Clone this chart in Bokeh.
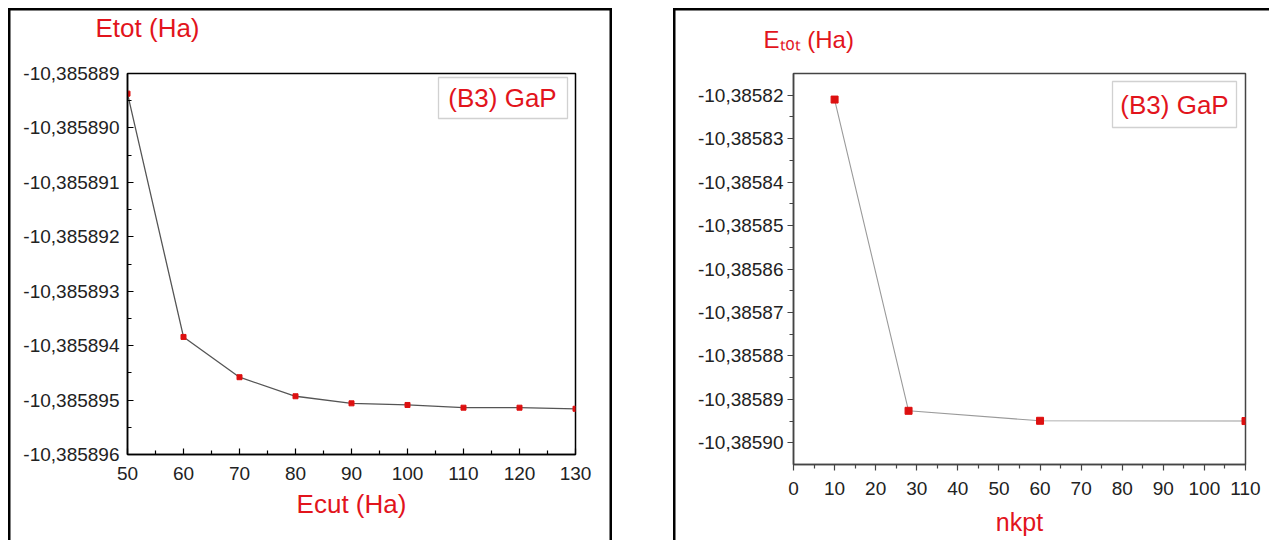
from bokeh.plotting import figure
from bokeh.models import (Range1d, FixedTicker, CustomJSTickFormatter, Label,
                          BoxAnnotation, Title)
from bokeh.layouts import row
from bokeh.embed import file_html
from bokeh.resources import INLINE

# ---------------- data ----------------
ecut = [50, 60, 70, 80, 90, 100, 110, 120, 130]
etot_ecut = [-10.38588937, -10.38589384, -10.38589458, -10.38589493,
             -10.38589506, -10.38589509, -10.38589514, -10.38589514,
             -10.38589516]

nkpt = [10, 28, 60, 110]
etot_nkpt = [-10.3858210, -10.38589264, -10.38589494, -10.38589500]

left_yticks = [-10.385889, -10.385890, -10.385891, -10.385892,
               -10.385893, -10.385894, -10.385895, -10.385896]
left_ylabels = ["-10,385889", "-10,385890", "-10,385891", "-10,385892",
                "-10,385893", "-10,385894", "-10,385895", "-10,385896"]
left_xticks = [50, 60, 70, 80, 90, 100, 110, 120, 130]

right_yticks = [-10.38582, -10.38583, -10.38584, -10.38585, -10.38586,
                -10.38587, -10.38588, -10.38589, -10.38590]
right_ylabels = ["-10,38582", "-10,38583", "-10,38584", "-10,38585",
                 "-10,38586", "-10,38587", "-10,38588", "-10,38589",
                 "-10,38590"]
right_xticks = [0, 10, 20, 30, 40, 50, 60, 70, 80, 90, 100, 110]

legend_text = "(B3) GaP"
left_title = "Etot (Ha)"
right_title = "E\u209c\u2092\u209c (Ha)"
left_xtitle = "Ecut (Ha)"
right_xtitle = "nkpt"

FONT = "Liberation Sans"
RED = "#e2141c"
MARK = "#dd1010"

JS_FMT = """
let best = 0; let bd = Infinity;
for (let i = 0; i < tv.length; i++) {
  const d = Math.abs(tv[i] - tick);
  if (d < bd) { bd = d; best = i; }
}
return lab[best];
"""


def minor_between(t):
    return [(a + b) / 2 for a, b in zip(t[:-1], t[1:])]


def style_axes(p, inward, axis_color):
    for ax in (p.xaxis[0], p.yaxis[0]):
        ax.axis_line_color = axis_color
        ax.axis_line_width = 1.5
        ax.major_tick_line_color = axis_color
        ax.minor_tick_line_color = axis_color
        ax.major_tick_line_width = 1.2
        ax.minor_tick_line_width = 1.2
        ax.major_label_text_font = FONT
        ax.major_label_text_font_size = "19px"
        ax.major_label_text_color = "#222222"
        ax.axis_label_text_font = FONT
        ax.axis_label_text_font_style = "normal"
        ax.axis_label_text_color = RED
        if inward:
            ax.major_tick_in = 6
            ax.major_tick_out = 0
            ax.minor_tick_in = 4
            ax.minor_tick_out = 0
        else:
            ax.major_tick_in = 0
            ax.major_tick_out = 6
            ax.minor_tick_in = 0
            ax.minor_tick_out = 4
    p.xgrid.visible = False
    p.ygrid.visible = False
    p.border_fill_color = None


def add_top_title(p, text, size, gap, offset):
    # invisible spacer title (closest to the frame), then the real title
    p.add_layout(Title(text=" ", text_font_size="2px", standoff=gap), "above")
    p.add_layout(Title(text=text, align="left", offset=offset,
                       standoff=0, vertical_align="bottom", text_font=FONT,
                       text_font_size=size, text_font_style="normal",
                       text_color=RED), "above")


# ---------------- left panel ----------------
p1 = figure(width=604, height=552,
            x_range=Range1d(50, 130),
            y_range=Range1d(-10.385896, -10.385889),
            output_backend="svg", toolbar_location=None,
            min_border_left=119, min_border_right=37,
            min_border_top=64, min_border_bottom=106)
p1.margin = (8, 0, 0, 8)
p1.styles = {"box-shadow": "inset 2.5px 2.5px 0 0 #000, inset -2.5px 0 0 0 #000"}
p1.outline_line_color = "black"
p1.outline_line_width = 1.5
style_axes(p1, True, "black")
p1.xaxis.ticker = FixedTicker(ticks=left_xticks, minor_ticks=minor_between(left_xticks))
p1.yaxis.ticker = FixedTicker(ticks=left_yticks, minor_ticks=minor_between(left_yticks))
p1.yaxis.formatter = CustomJSTickFormatter(args=dict(tv=left_yticks, lab=left_ylabels), code=JS_FMT)
p1.yaxis.major_label_standoff = 8
p1.xaxis.major_label_standoff = 12
p1.xaxis.axis_label = left_xtitle
p1.xaxis.axis_label_text_font_size = "26px"
p1.xaxis.axis_label_standoff = 6

p1.line(ecut, etot_ecut, line_color="#555555", line_width=1.3)
p1.scatter(ecut, etot_ecut, marker="square", size=5, fill_color=MARK, line_color=MARK)

p1.add_layout(BoxAnnotation(left=311, right=440, top=377, bottom=336,
                            left_units="screen", right_units="screen",
                            top_units="screen", bottom_units="screen",
                            fill_color="white", fill_alpha=1,
                            line_color="#666666", line_width=1.3))
p1.add_layout(Label(x=375, y=356.5, x_units="screen", y_units="screen",
                    text=legend_text, text_align="center", text_baseline="middle",
                    text_font=FONT, text_font_size="26px", text_color=RED))
add_top_title(p1, left_title, "26px", 27, -32)

# ---------------- right panel ----------------
p2 = figure(width=596, height=562,
            x_range=Range1d(0, 110),
            y_range=Range1d(-10.385905, -10.385815),
            output_backend="svg", toolbar_location=None,
            min_border_left=120, min_border_right=24,
            min_border_top=65, min_border_bottom=95)
p2.margin = (8, 0, 0, 61)
p2.styles = {"box-shadow": "inset 2.5px 2.5px 0 0 #000"}
p2.outline_line_color = "#444444"
p2.outline_line_width = 1.5
style_axes(p2, False, "#444444")
p2.xaxis.ticker = FixedTicker(ticks=right_xticks, minor_ticks=minor_between(right_xticks))
p2.yaxis.ticker = FixedTicker(ticks=right_yticks, minor_ticks=minor_between(right_yticks))
p2.yaxis.formatter = CustomJSTickFormatter(args=dict(tv=right_yticks, lab=right_ylabels), code=JS_FMT)
p2.yaxis.major_label_standoff = 4
p2.xaxis.major_label_standoff = 11
p2.xaxis.axis_label = right_xtitle
p2.xaxis.axis_label_text_font_size = "25px"
p2.xaxis.axis_label_standoff = 10

p2.line(nkpt, etot_nkpt, line_color="#9a9a9a", line_width=1.1)
p2.scatter(nkpt, etot_nkpt, marker="square", size=7, fill_color=MARK, line_color=MARK)

p2.add_layout(BoxAnnotation(left=319, right=443, top=383, bottom=337,
                            left_units="screen", right_units="screen",
                            top_units="screen", bottom_units="screen",
                            fill_color="white", fill_alpha=1,
                            line_color="#666666", line_width=1.3))
p2.add_layout(Label(x=381, y=360, x_units="screen", y_units="screen",
                    text=legend_text, text_align="center", text_baseline="middle",
                    text_font=FONT, text_font_size="26px", text_color=RED))
add_top_title(p2, right_title, "24px", 17, -30)

layout = row(p1, p2, styles={"overflow": "hidden", "max-height": "540px"})
open("out.html", "w").write(file_html(layout, INLINE))
